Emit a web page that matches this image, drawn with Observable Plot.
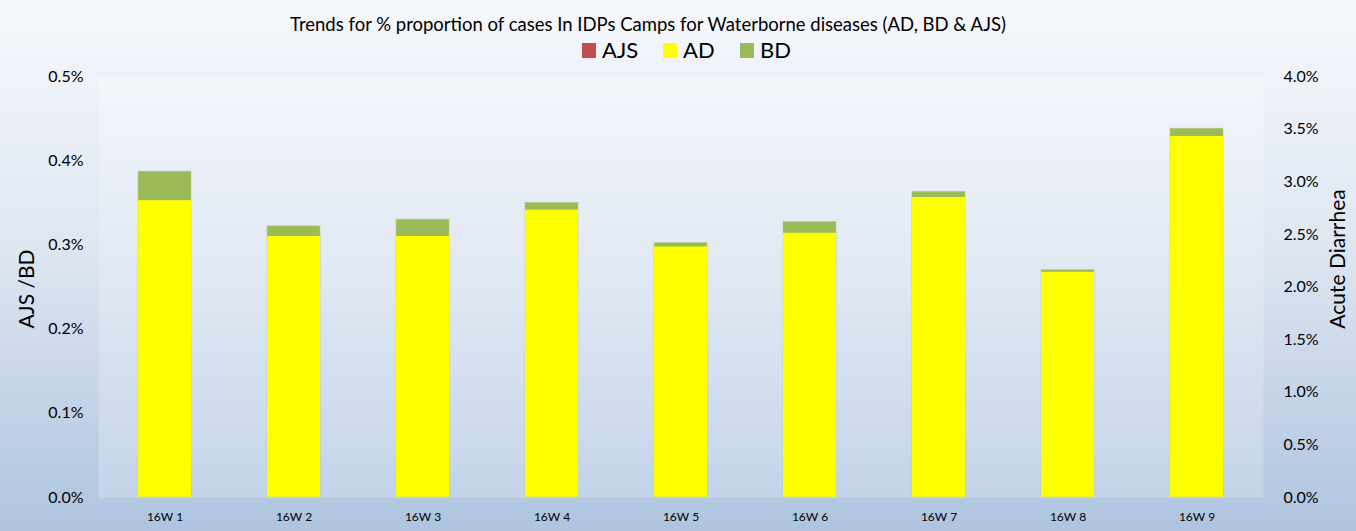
<!DOCTYPE html>
<html>
<head>
<meta charset="utf-8">
<script src="https://cdn.jsdelivr.net/npm/d3@7"></script>
<script src="https://cdn.jsdelivr.net/npm/@observablehq/plot@0.6"></script>
<style>
  html, body { margin: 0; padding: 0; }
  body { width: 1356px; height: 531px; overflow: hidden; font-family: Lato, "Open Sans", sans-serif;
         background: linear-gradient(to bottom, #f6f8fc 0%, #dfe7f2 45%, #aec4df 100%); }
  #wrap { position: relative; width: 1356px; height: 531px; }
  #title { position: absolute; top: 13px; left: 0; width: 1296px; text-align: center; font-size: 18.5px; color: #000; }
  #legend { position: absolute; top: 36px; left: 0; width: 1356px; height: 30px; }
  .item { position: absolute; top: 0; font-size: 22px; color: #000; line-height: 28px; }
  .sw { position: absolute; top: 7px; width: 14px; height: 15px; }
  #chart { position: absolute; top: 62px; left: 0; }
</style>
</head>
<body>
<div id="wrap">
  <div id="title">Trends for % proportion of cases In IDPs Camps for Waterborne diseases (AD, BD &amp; AJS)</div>
  <div id="legend"></div>
  <div id="chart"></div>
</div>
<script>
const weeks = ["16W 1","16W 2","16W 3","16W 4","16W 5","16W 6","16W 7","16W 8","16W 9"];
// Acute Diarrhea, % (right axis, 0–4%)
const adValues = [2.82, 2.48, 2.48, 2.73, 2.38, 2.51, 2.85, 2.14, 3.43];
// Bloody Diarrhea, % (left axis, 0–0.5%)
const bdValues = [0.387, 0.322, 0.330, 0.350, 0.302, 0.327, 0.363, 0.270, 0.438];
// Acute Jaundice Syndrome, % (left axis)
const ajsValues = [0, 0, 0, 0, 0, 0, 0, 0, 0];
const leftTicks = [0, 0.1, 0.2, 0.3, 0.4, 0.5];
const rightTicks = [0, 0.5, 1.0, 1.5, 2.0, 2.5, 3.0, 3.5, 4.0];
const seriesNames = ["AJS", "AD", "BD"];
const seriesColors = ["#c0504d", "#ffff00", "#9bbb59"];

const leftMax = 0.5, rightMax = 4.0;
const ratio = leftMax / rightMax;

const rows = weeks.map((w, i) => ({week: w, ad: adValues[i], bd: bdValues[i], ajs: ajsValues[i]}));

// legend
const legend = document.getElementById("legend");
const legendX = [582, 663, 740];
seriesNames.forEach((name, i) => {
  const sw = document.createElement("div");
  sw.className = "sw"; sw.style.left = legendX[i] + "px"; sw.style.background = seriesColors[i];
  legend.appendChild(sw);
  const t = document.createElement("div");
  t.className = "item"; t.style.left = (legendX[i] + 20) + "px"; t.textContent = name;
  legend.appendChild(t);
});

const plot = Plot.plot({
  width: 1356,
  height: 469,
  marginLeft: 98,
  marginRight: 93,
  marginTop: 14,
  marginBottom: 34,
  style: {fontFamily: "Lato, 'Open Sans', sans-serif", background: "transparent", color: "#000"},
  x: {type: "band", domain: weeks, paddingInner: 0.59, paddingOuter: 0.295, label: null},
  y: {domain: [0, leftMax], label: null},
  marks: [
    Plot.frame({fill: "url(#plotGrad)", stroke: "none"}),
    Plot.barY(rows, {x: "week", y: "bd", fill: seriesColors[2], stroke: "#b5c98a", strokeWidth: 0.6}),
    Plot.barY(rows, {x: "week", y: d => d.ajs, fill: seriesColors[0]}),
    Plot.barY(rows, {x: "week", y: d => d.ad * ratio, fill: seriesColors[1]}),
    Plot.ruleY([0], {stroke: "#c5cfdc", strokeWidth: 1.5}),
    Plot.axisY({anchor: "left", ticks: leftTicks, tickSize: 0, tickPadding: 15,
      tickFormat: d => d.toFixed(1) + "%", fontSize: 16, label: null}),
    Plot.axisY({anchor: "right", ticks: rightTicks.map(v => v * ratio), tickSize: 0, tickPadding: 20,
      tickFormat: d => (d / ratio).toFixed(1) + "%", fontSize: 16, label: null}),
    Plot.axisX({tickSize: 0, tickPadding: 15, fontSize: 12, label: null}),
    Plot.ruleX(weeks, {x: d => d, dx: -64.9, y1: 0, y2: -0.006, stroke: "#c5cfdc"}),
    Plot.ruleX([weeks[weeks.length - 1]], {x: d => d, dx: 64.9, y1: 0, y2: -0.006, stroke: "#c5cfdc"}),
    Plot.text(["AJS /BD"], {frameAnchor: "left", textAnchor: "middle", dx: -71, dy: 2, rotate: -90, fontSize: 21, fill: "#000"}),
    Plot.text(["Acute Diarrhea"], {frameAnchor: "right", textAnchor: "middle", dx: 75, dy: -28, rotate: -90, fontSize: 21, fill: "#000"})
  ]
});

// gradient for plot area background
const svgNS = "http://www.w3.org/2000/svg";
const defs = document.createElementNS(svgNS, "defs");
defs.innerHTML = `<linearGradient id="plotGrad" x1="0" y1="0" x2="0" y2="1">
  <stop offset="0" stop-color="#f3f6fb"/><stop offset="0.5" stop-color="#dfe7f2"/><stop offset="1" stop-color="#c3d4e9"/>
</linearGradient>`;
plot.insertBefore(defs, plot.firstChild);
document.getElementById("chart").appendChild(plot);
</script>
</body>
</html>
